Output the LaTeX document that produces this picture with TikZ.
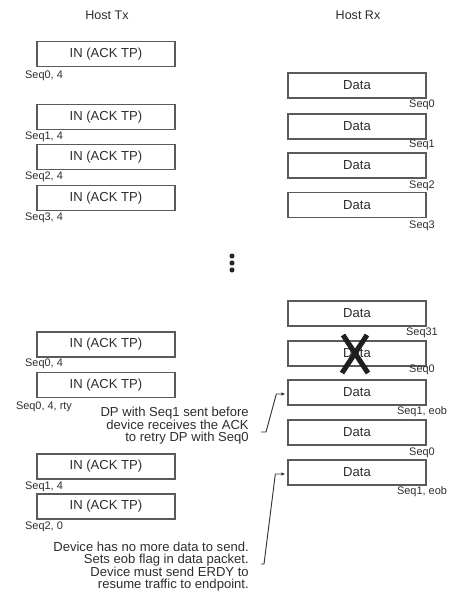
\documentclass[tikz,border=0pt]{standalone}
\usepackage{fontspec}
\setmainfont{Liberation Sans}
\usepackage{xcolor}
\definecolor{BoxGray}{RGB}{90,90,90}
\definecolor{TextGray}{RGB}{45,45,45}
\usetikzlibrary{arrows.meta,calc}

\tikzset{
  pkt/.style={draw=BoxGray,line width=1pt,minimum width=103.5pt,minimum height=18.75pt,
    inner sep=0pt,text=TextGray,font=\fontsize{9.8}{11}\selectfont},
  seqlbl/.style={text=TextGray,inner sep=0pt,font=\fontsize{8.2}{9}\selectfont},
  hostlbl/.style={text=TextGray,inner sep=0pt,font=\fontsize{9.4}{11}\selectfont},
  note/.style={align=right,anchor=east,inner sep=0pt,text=TextGray,font=\fontsize{9.8}{9.3}\selectfont},
  pointer/.style={draw=black!80,line width=0.7pt,-{Latex[length=3pt,width=2.6pt]}}
}

\begin{document}
\begin{tikzpicture}[x=0.75pt,y=-0.75pt]
  \useasboundingbox (0,0) rectangle (449,592);

  % column heads
  \node[hostlbl] (hosttx) at (107,15) {Host Tx};
  \node[hostlbl] (hostrx) at (358,15) {Host Rx};

  % host tx side
  \node[pkt] (tx1) at (106,54)    {IN (ACK TP)};
  \node[seqlbl] (tx1s) at (44,76)  {Seq0, 4};
  \node[pkt] (tx2) at (106,117)   {IN (ACK TP)};
  \node[seqlbl] (tx2s) at (44,137) {Seq1, 4};
  \node[pkt] (tx3) at (106,157)   {IN (ACK TP)};
  \node[seqlbl] (tx3s) at (44,177) {Seq2, 4};
  \node[pkt] (tx4) at (106,198)   {IN (ACK TP)};
  \node[seqlbl] (tx4s) at (44,218) {Seq3, 4};
  \node[pkt] (tx5) at (106,344.5) {IN (ACK TP)};
  \node[seqlbl] (tx5s) at (44,364) {Seq0, 4};
  \node[pkt] (tx6) at (106,385)   {IN (ACK TP)};
  \node[seqlbl] (tx6s) at (44,407) {Seq0, 4, rty};
  \node[pkt] (tx7) at (106,466.5) {IN (ACK TP)};
  \node[seqlbl] (tx7s) at (44,487) {Seq1, 4};
  \node[pkt] (tx8) at (106,506.5) {IN (ACK TP)};
  \node[seqlbl] (tx8s) at (44,527) {Seq2, 0};

  % host rx side
  \node[pkt] (rx1) at (357,85.5)  {Data};
  \node[seqlbl] (rx1s) at (422,105) {Seq0};
  \node[pkt] (rx2) at (357,126.5) {Data};
  \node[seqlbl] (rx2s) at (422,145) {Seq1};
  \node[pkt] (rx3) at (357,165.5) {Data};
  \node[seqlbl] (rx3s) at (422,186) {Seq2};
  \node[pkt] (rx4) at (357,205)   {Data};
  \node[seqlbl] (rx4s) at (422,226) {Seq3};
  \node[pkt] (rx5) at (357,313.5) {Data};
  \node[seqlbl] (rx5s) at (422,333) {Seq31};
  \node[pkt] (rx6) at (357,353.5) {Data};
  \node[seqlbl] (rx6s) at (422,370) {Seq0};
  \node[pkt] (rx7) at (357,392.5) {Data};
  \node[seqlbl] (rx7s) at (422,412) {Seq1, eob};
  \node[pkt] (rx8) at (357,432.5) {Data};
  \node[seqlbl] (rx8s) at (422,453) {Seq0};
  \node[pkt] (rx9) at (357,472.5) {Data};
  \node[seqlbl] (rx9s) at (422,492) {Seq1, eob};

  % lost packet
  \draw[line width=3.8pt,black!88] (343,335) -- (368,373);
  \draw[line width=3.8pt,black!88] (367,335) -- (342,373);

  % gap in the sequence
  \fill[black!85] (232,256) circle[radius=1.9pt];
  \fill[black!85] (232,263) circle[radius=1.9pt];
  \fill[black!85] (232,270) circle[radius=1.9pt];

  % notes
  \node[note] (retry) at (249,426) {DP with Seq1 sent before\\device receives the ACK\\to retry DP with Seq0};
  \node[note] (nomore) at (249,566.5) {Device has no more data to send.\\Sets eob flag in data packet.\\Device must send ERDY to\\resume traffic to endpoint.};

  \draw[pointer] ($(retry.east)+(12,6)$) -- ++(5,0) -- ($(rx7.west)+(-11,1.5)$) -- ($(rx7.west)+(-2,1.5)$);
  \draw[pointer] ($(nomore.east)+(12,-2.5)$) -- ++(3,0) -- ($(rx9.west)+(-12,1.5)$) -- ($(rx9.west)+(-2,1.5)$);
\end{tikzpicture}
\end{document}
